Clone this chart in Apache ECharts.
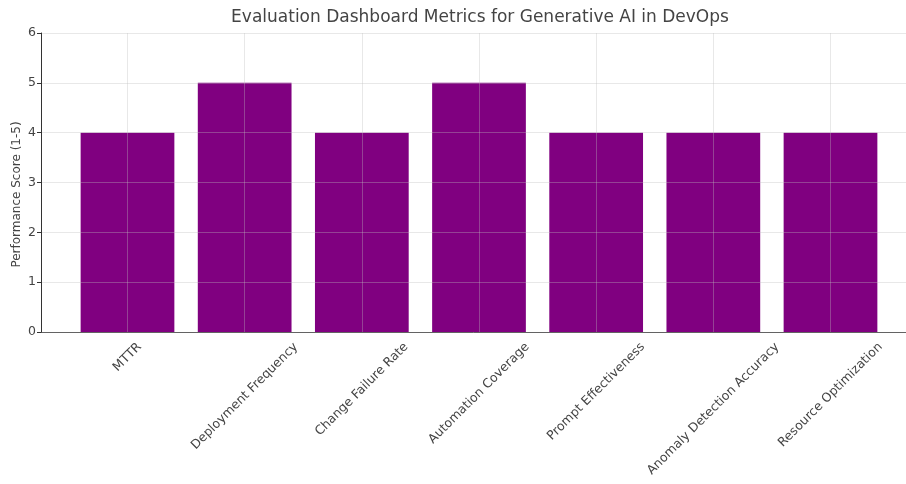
<!DOCTYPE html>
<html>
<head>
<meta charset="utf-8">
<script src="https://cdn.jsdelivr.net/npm/echarts@6/dist/echarts.min.js"></script>
<style>
  html, body { margin: 0; padding: 0; background: #fff; }
  #main { width: 906px; height: 484px; }
</style>
</head>
<body>
<div id="main"></div>
<script>
// chart data
const metrics = ['MTTR', 'Deployment Frequency', 'Change Failure Rate', 'Automation Coverage',
  'Prompt Effectiveness', 'Anomaly Detection Accuracy', 'Resource Optimization'];
const scores = [4, 5, 4, 5, 4, 4, 4];
const yTicks = [0, 1, 2, 3, 4, 5, 6];

const FONT = '"DejaVu Sans", "Noto Sans", sans-serif';
const gridColor = 'rgba(190,190,190,0.35)';
const LABEL_SIZE = 12.5;

// matplotlib puts rotated labels centred under the tick, echarts anchors the end;
// pad each label so its visible centre lands where matplotlib would put it
const ctx = document.createElement('canvas').getContext('2d');
ctx.font = LABEL_SIZE + 'px ' + FONT;
const labelRich = {};
metrics.forEach((m, i) => {
  const w = ctx.measureText(m).width;
  const s = 0.5 * (w + 14);
  labelRich['l' + i] = {
    fontSize: LABEL_SIZE, lineHeight: 14, color: '#444', fontFamily: FONT,
    padding: [s, s, 0, 0]
  };
});

const chart = echarts.init(document.getElementById('main'));
const option = {
  animation: false,
  title: {
    text: 'Evaluation Dashboard Metrics for Generative AI in DevOps',
    left: 475, top: 4, textAlign: 'center',
    textStyle: { fontFamily: FONT, fontSize: 17, fontWeight: 'normal', color: '#444' }
  },
  grid: [
    { left: 41, top: 33, width: 875, height: 299, outerBoundsMode: 'none' },
    { left: 127.5, top: 33, width: 703, height: 299, outerBoundsMode: 'none' }
  ],
  xAxis: [
    {
      gridIndex: 0, type: 'value', min: 0, max: 1,
      axisLine: { show: true, lineStyle: { color: '#333', width: 1 } },
      axisTick: { show: false }, axisLabel: { show: false }, splitLine: { show: false }
    },
    {
      gridIndex: 1, type: 'category', data: metrics, boundaryGap: false, z: 3,
      axisLine: { show: false },
      axisTick: { show: false },
      axisLabel: {
        interval: 0, rotate: 45, margin: 8, align: 'center', verticalAlign: 'middle',
        formatter: (v, i) => '{l' + i + '|' + v + '}',
        rich: labelRich
      },
      splitLine: { show: true, interval: 0, lineStyle: { color: gridColor, width: 1 } }
    }
  ],
  yAxis: [
    {
      gridIndex: 0, type: 'value', min: yTicks[0], max: yTicks[yTicks.length - 1], interval: 1, z: 3,
      name: 'Performance Score (1-5)', nameLocation: 'middle', nameGap: 18, nameMoveOverlap: false,
      nameTextStyle: { fontFamily: FONT, fontSize: 12, color: '#444', padding: [0, 24, 0, 0] },
      axisLine: { show: true, lineStyle: { color: '#333', width: 1 } },
      axisTick: { show: true, length: 4, lineStyle: { color: '#333' } },
      axisLabel: { fontFamily: FONT, fontSize: 12.5, color: '#444', margin: 5 },
      splitLine: { show: true, lineStyle: { color: gridColor, width: 1 } }
    },
    {
      gridIndex: 1, type: 'value', min: yTicks[0], max: yTicks[yTicks.length - 1], show: false
    }
  ],
  series: [
    {
      type: 'bar', xAxisIndex: 1, yAxisIndex: 1,
      data: scores, barWidth: '80%', clip: false,
      itemStyle: { color: '#800080' }
    }
  ]
};
chart.setOption(option);
</script>
</body>
</html>
